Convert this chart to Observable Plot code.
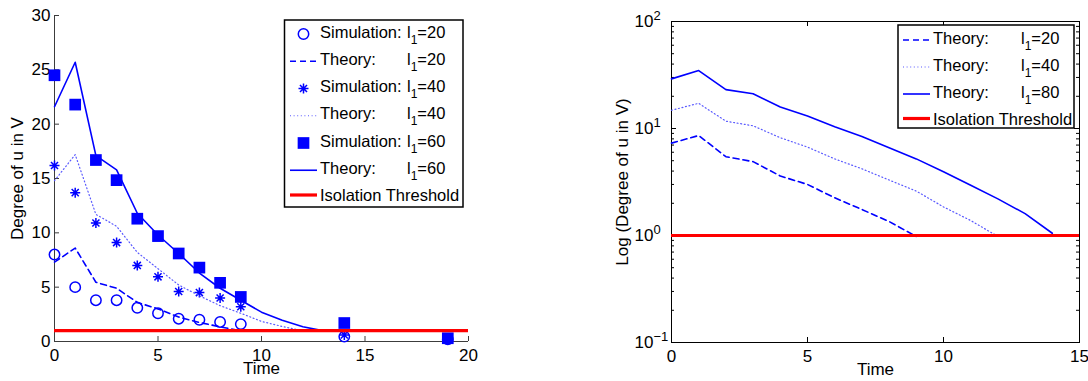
<!DOCTYPE html>
<html><head><meta charset="utf-8">
<script src="https://cdn.jsdelivr.net/npm/d3@7"></script>
<script src="https://cdn.jsdelivr.net/npm/@observablehq/plot@0.6"></script>
<style>
body{margin:0;background:#fff;font-family:"Liberation Sans",Arial,sans-serif;}
#wrap{position:relative;width:1088px;height:381px;overflow:hidden;}
.panel{position:absolute;top:0;}
#overlay{position:absolute;left:0;top:0;pointer-events:none;}
</style>
</head><body>
<div id="wrap"></div>
<script>
// ---------- data ----------
const simTimes = [0,1,2,3,4,5,6,7,8,9,14,19];
const sim20 = [8.0,5.0,3.8,3.8,3.1,2.6,2.1,2.0,1.8,1.6,0.45,0.2];
const sim40 = [16.2,13.7,10.9,9.1,7.0,5.95,4.6,4.5,4.0,3.2,0.6,0.25];
const sim60 = [24.5,21.8,16.7,14.85,11.3,9.7,8.1,6.8,5.4,4.1,1.7,0.3];
const theory20 = [7.3,8.6,5.45,4.9,3.6,3.0,2.25,1.75,1.35,0.98];
const theory40 = [14.8,17.2,11.7,10.6,8.2,6.7,5.2,4.2,3.3,2.6,1.85,1.38,0.98];
const theory60 = [21.6,25.7,17.1,15.8,11.8,9.8,8.1,6.3,4.9,3.8,2.7,1.95,1.35,0.98];
const theory80 = [29.1,34.8,23.1,21.1,15.9,13.1,10.4,8.4,6.6,5.2,3.95,2.95,2.2,1.6,1.05];
const threshold = [1];
const xTicksLeft = [0,5,10,15,20];
const yTicksLeft = [0,5,10,15,20,25,30];
const xTicksRight = [0,5,10,15];
const yTicksRight = [0.1,1,10,100];
const yExponents = ["−1","0","1","2"];
const legendLeftLabels = [["Simulation:","20"],["Theory:","20"],["Simulation:","40"],["Theory:","40"],["Simulation:","60"],["Theory:","60"],["Isolation Threshold",null]];
const legendRightLabels = [["Theory:","20"],["Theory:","40"],["Theory:","80"],["Isolation Threshold",null]];

const toPts = (ts, vs) => vs.map((v,i)=>({t: ts[i], v}));
const idx = n => d3.range(n);
const S20 = toPts(simTimes, sim20), S40 = toPts(simTimes, sim40), S60 = toPts(simTimes, sim60);
const T20 = toPts(idx(theory20.length), theory20);
const T40 = toPts(idx(theory40.length), theory40);
const T60 = toPts(idx(theory60.length), theory60);
const T80 = toPts(idx(theory80.length), theory80);

const BLUE = "#0000ff";
const star8 = {draw(ctx, size){ const r = Math.sqrt(size/Math.PI); for (let k=0;k<4;k++){ const a=k*Math.PI/4; ctx.moveTo(r*Math.cos(a), r*Math.sin(a)); ctx.lineTo(-r*Math.cos(a), -r*Math.sin(a)); } }};
const dashStyle = {stroke: BLUE, strokeWidth: 1.6, strokeDasharray: "6,4"};
const dotStyle = {stroke: "#5a5aff", strokeWidth: 1.2, strokeDasharray: "1,2.6"};
const solidStyle = {stroke: BLUE, strokeWidth: 1.6};
const font = "Liberation Sans, Arial, sans-serif";
const R_CIRCLE = 5.2, R_STAR = 5, R_SQUARE = 6.6;

// ---------- left chart ----------
const W = 544, H = 381;
const mL = {top:15, right:76, bottom:40, left:54};
const pwL = W - mL.left - mL.right, phL = H - mL.top - mL.bottom;
const axisColL = "#3c3c3c";
const left = Plot.plot({
  width: W, height: H,
  marginTop: mL.top, marginRight: mL.right, marginBottom: mL.bottom, marginLeft: mL.left,
  style: {fontFamily: font, fontSize: "17px", color: "#000", background: "transparent"},
  x: {domain: [0,20]},
  y: {domain: [0,30]},
  marks: [
    Plot.ruleX([0], {stroke: axisColL}),
    Plot.ruleY([0], {stroke: axisColL}),
    Plot.tickY(yTicksLeft, {y: d=>d, insetRight: pwL-5, stroke: axisColL}),
    Plot.tickX(xTicksLeft, {x: d=>d, insetTop: phL-5, stroke: axisColL}),
    Plot.axisX({ticks: xTicksLeft, tickSize: 0, tickPadding: 7, fontSize: 17, label: null}),
    Plot.text(["Time"], {frameAnchor: "bottom", dy: 32, text: d=>d, fontSize: 17}),
    Plot.axisY({ticks: yTicksLeft, tickSize: 0, tickPadding: 4, fontSize: 17, label: "Degree of u in V", labelAnchor: "center", labelArrow: "none", labelOffset: 44}),
    Plot.dot(S20, {x: "t", y: "v", r: R_CIRCLE, stroke: BLUE, strokeWidth: 1.5, fill: "none"}),
    Plot.line(T20, {x: "t", y: "v", ...dashStyle}),
    Plot.dot(S40, {x: "t", y: "v", r: R_STAR, symbol: star8, stroke: BLUE, strokeWidth: 1.5, fill: "none"}),
    Plot.line(T40, {x: "t", y: "v", ...dotStyle}),
    Plot.dot(S60, {x: "t", y: "v", r: R_SQUARE, symbol: "square", fill: BLUE, stroke: "none"}),
    Plot.line(T60, {x: "t", y: "v", ...solidStyle}),
    Plot.ruleY(threshold, {stroke: "#ff0000", strokeWidth: 3.2})
  ]
});

// ---------- right chart ----------
const mR = {top:21, right:9, bottom:39, left:127};
const pwR = W - mR.left - mR.right, phR = H - mR.top - mR.bottom;
const minorY = [];
for (const base of [0.1,1,10]) for (let k=2;k<=9;k++) minorY.push(base*k);
const right = Plot.plot({
  width: W, height: H,
  marginTop: mR.top, marginRight: mR.right, marginBottom: mR.bottom, marginLeft: mR.left,
  style: {fontFamily: font, fontSize: "17px", color: "#000", background: "transparent"},
  x: {domain: [0,15]},
  y: {type: "log", domain: [0.1,100]},
  marks: [
    Plot.frame({stroke: "#000"}),
    Plot.tickY(yTicksRight, {y: d=>d, insetRight: pwR-5, stroke: "#000"}),
    Plot.tickY(yTicksRight, {y: d=>d, insetLeft: pwR-5, stroke: "#000"}),
    Plot.tickY(minorY, {y: d=>d, insetRight: pwR-3, stroke: "#000"}),
    Plot.tickY(minorY, {y: d=>d, insetLeft: pwR-3, stroke: "#000"}),
    Plot.tickX(xTicksRight, {x: d=>d, insetTop: phR-5, stroke: "#000"}),
    Plot.tickX(xTicksRight, {x: d=>d, insetBottom: phR-5, stroke: "#000"}),
    Plot.axisX({ticks: xTicksRight, tickSize: 0, tickPadding: 7, fontSize: 17, label: null}),
    Plot.text(["Time"], {frameAnchor: "bottom", dy: 32, text: d=>d, fontSize: 17}),
    Plot.axisY({ticks: [], tickSize: 0, label: "Log (Degree of u in V)", labelAnchor: "center", labelArrow: "none", labelOffset: 56}),
    Plot.text(yTicksRight, {y: d=>d, frameAnchor: "left", text: () => "10", textAnchor: "end", dx: -18, fontSize: 17, lineAnchor: "middle"}),
    Plot.text(yTicksRight, {y: d=>d, frameAnchor: "left", text: (d,i) => yExponents[i], textAnchor: "start", dx: -18, dy: -6, fontSize: 13, lineAnchor: "middle"}),
    Plot.line(T20, {x: "t", y: "v", ...dashStyle}),
    Plot.line(T40, {x: "t", y: "v", ...dotStyle}),
    Plot.line(T80, {x: "t", y: "v", ...solidStyle}),
    Plot.ruleY(threshold, {stroke: "#ff0000", strokeWidth: 3.2})
  ]
});

const wrap = document.getElementById("wrap");
left.classList.add("panel"); left.style.left = "0px";
right.classList.add("panel"); right.style.left = "544px";
wrap.appendChild(left); wrap.appendChild(right);

// ---------- legends (overlay) ----------
const ov = d3.select(wrap).append("svg").attr("id","overlay").attr("width",1088).attr("height",381)
  .style("font-family", font);

function drawSymbol(g, kind, x0, x1, y){
  const cx = (x0+x1)/2;
  if (kind === "circle") g.append("circle").attr("cx",cx).attr("cy",y).attr("r",R_CIRCLE).attr("fill","none").attr("stroke",BLUE).attr("stroke-width",1.5);
  else if (kind === "star") g.append("path").attr("d", d3.symbol(star8, R_STAR*R_STAR*Math.PI)()).attr("transform",`translate(${cx},${y})`).attr("fill","none").attr("stroke",BLUE).attr("stroke-width",1.5);
  else if (kind === "square") g.append("path").attr("d", d3.symbol(d3.symbolSquare, R_SQUARE*R_SQUARE*Math.PI)()).attr("transform",`translate(${cx},${y})`).attr("fill",BLUE);
  else {
    const st = kind === "dash" ? dashStyle : kind === "dot" ? dotStyle : kind === "solid" ? solidStyle : {stroke:"#ff0000", strokeWidth:3.2};
    g.append("line").attr("x1",x0).attr("x2",x1).attr("y1",y).attr("y2",y)
      .attr("stroke",st.stroke).attr("stroke-width",st.strokeWidth).attr("stroke-dasharray",st.strokeDasharray||null);
  }
}
function legend(box, labels, kinds, opts){
  const g = ov.append("g");
  g.append("rect").attr("x",box.x).attr("y",box.y).attr("width",box.w).attr("height",box.h)
    .attr("fill","#fff").attr("stroke","#000").attr("stroke-width",1.5);
  labels.forEach((lab,i)=>{
    const c = opts.c0 + opts.step*i;
    const isLast = lab[1] === null;
    drawSymbol(g, kinds[i], opts.sx0, opts.sx1, isLast ? c : c + 2.5);
    g.append("text").attr("x",opts.tx).attr("y",c+6).attr("font-size",16.5).text(lab[0]);
    if (!isLast){
      const t = g.append("text").attr("x",opts.lx).attr("y",c+6).attr("font-size",16.5);
      t.append("tspan").text("l");
      t.append("tspan").attr("dy",6).attr("font-size",12).text("1");
      t.append("tspan").attr("dy",-6).text("=" + lab[1]);
    }
  });
}
legend({x:284.5,y:20,w:178.5,h:187}, legendLeftLabels, ["circle","dash","star","dot","square","solid","red"],
  {c0:31.5, step:27.25, sx0:290, sx1:317, tx:320, lx:407});
legend({x:898,y:25,w:176,h:103}, legendRightLabels, ["dash","dot","solid","red"],
  {c0:37.5, step:27, sx0:903, sx1:930, tx:933, lx:1021});
</script>
</body></html>
